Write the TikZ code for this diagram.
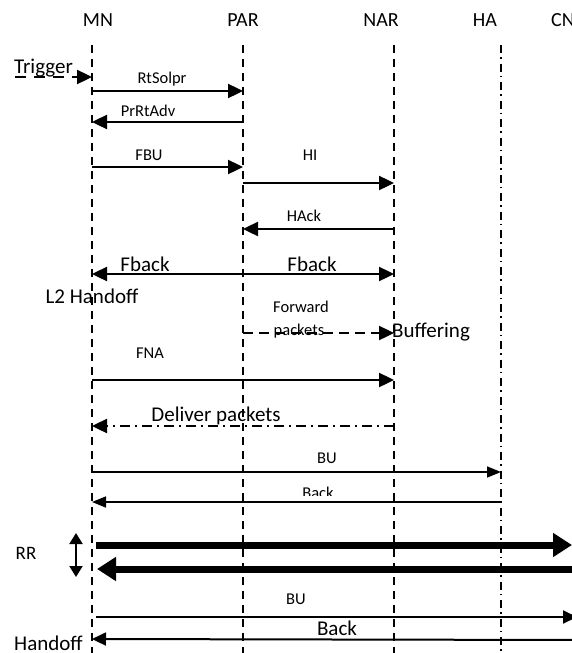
\documentclass[tikz,border=0pt]{standalone}
\usepackage{fontspec}
\setmainfont{Carlito}
\usetikzlibrary{arrows.meta}
\begin{document}
\begin{tikzpicture}[x=1pt,y=-1pt,
  life/.style={line width=1.3pt, dash pattern=on 8pt off 6pt},
  hlife/.style={line width=1.3pt, dash pattern=on 8pt off 4pt on 1.5pt off 5pt},
  msg/.style={line width=2.4pt, -{Triangle[length=15pt,width=14pt]}},
  dmsg/.style={line width=2.4pt, {Triangle[length=15pt,width=14pt]}-{Triangle[length=15pt,width=14pt]}},
  thinmsg/.style={line width=1.6pt, -{Triangle[length=14pt,width=11pt]}},
  fat/.style={line width=7pt, -{Triangle[length=19pt,width=23pt]}},
  hdr/.style={font=\fontsize{20}{22}\selectfont, inner sep=0pt, anchor=base},
  sm/.style={font=\fontsize{16.5}{19}\selectfont, inner sep=0pt},
  big/.style={font=\fontsize{21}{23}\selectfont, inner sep=0pt},
]
\useasboundingbox (0,0) rectangle (571,653);

% headers
\node[hdr] (MN) at (98,27) {MN};
\node[hdr] (PAR) at (243,27) {PAR};
\node[hdr] (NAR) at (381,27) {NAR};
\node[hdr] (HA) at (485,27) {HA};
\node[hdr, anchor=base west] (CN) at (551,27) {CN};

% lifelines
\coordinate (LMN) at (92,45);
\coordinate (LPAR) at (243,45);
\coordinate (LNAR) at (394,45);
\coordinate (LHA) at (501,45);
\coordinate (bot) at (0,653);
\draw[life] (LMN) -- (LMN |- bot);
\draw[life] (LPAR) -- (LPAR |- bot);
\draw[life] (LNAR) -- (LNAR |- bot);
\draw[hlife] (LHA) -- (LHA |- bot);

% Trigger
\node[big, anchor=base west] (trig) at (14,73.5) {Trigger};
\coordinate (trigS) at (15,77);
\draw[msg, dash pattern=on 11pt off 8pt] (trigS) -- (LMN |- trigS);

% RtSolpr
\coordinate (r1) at (0,91);
\draw[msg] (LMN |- r1) -- (LPAR |- r1);
\node[sm] (l1) at (162,79) {RtSolpr};

% PrRtAdv
\coordinate (r2) at (0,122);
\draw[msg] (LPAR |- r2) -- (LMN |- r2);
\node[sm] (l2) at (148,111) {PrRtAdv};

% FBU
\coordinate (r3) at (0,167);
\draw[msg] (LMN |- r3) -- (LPAR |- r3);
\node[sm] (l3) at (149,155) {FBU};

% HI
\coordinate (r4) at (0,183);
\draw[msg] (LPAR |- r4) -- (LNAR |- r4);
\node[sm] (l4) at (310,155) {HI};

% HAck
\coordinate (r5) at (0,229);
\draw[msg] (LNAR |- r5) -- (LPAR |- r5);
\node[sm] (l5) at (304,216) {HAck};

% Fback
\coordinate (r6) at (0,274);
\draw[dmsg] (LMN |- r6) -- (LNAR |- r6);
\node[big] (l6a) at (145,264) {Fback};
\node[big] (l6b) at (312,264) {Fback};

\node[big] (l2h) at (92,296) {L2 Handoff};

% Forward packets
\coordinate (r7) at (0,333);
\draw[msg, dash pattern=on 10pt off 6pt] (LPAR |- r7) -- (LNAR |- r7);
\node[sm] (l7a) at (301,307) {Forward};
\node[sm] (l7b) at (299,331) {packets};
\node[big, anchor=west] (buf) at (392,332) {Buffering};

% FNA
\coordinate (r8) at (0,380);
\draw[msg] (LMN |- r8) -- (LNAR |- r8);
\node[sm] (l8) at (150,353) {FNA};

% Deliver packets
\coordinate (r9) at (0,426);
\draw[msg, dash pattern=on 10pt off 5pt on 2pt off 5pt] (LNAR |- r9) -- (LMN |- r9);
\node[big] (l9) at (216,416) {Deliver packets};

% BU to HA
\coordinate (r10) at (0,472);
\draw[thinmsg] (LMN |- r10) -- (LHA |- r10);
\node[sm] (l10) at (327,458) {BU};

% Back from HA
\coordinate (r11) at (0,502);
\draw[thinmsg] (LHA |- r11) -- (LMN |- r11);
\begin{scope}
\clip (280,470) rectangle (360,495.5);
\node[sm] (l11) at (318,493) {Back};
\end{scope}

% RR
\node[font=\fontsize{19}{21}\selectfont, inner sep=0pt] (RR) at (26,553) {RR};
\coordinate (rrT) at (76,533);
\coordinate (rrB) at (76,577);
\draw[line width=2pt, {Triangle[length=11pt,width=13pt]}-{Triangle[length=11pt,width=13pt]}] (rrT) -- (rrB);
\coordinate (f1s) at (96,545);
\coordinate (f1e) at (572,545);
\draw[fat] (f1s) -- (f1e);
\coordinate (f2s) at (580,569);
\coordinate (f2e) at (97,569);
\draw[fat] (f2s) -- (f2e);

% BU to CN
\coordinate (b1s) at (96,617);
\coordinate (b1e) at (577,617);
\draw[line width=2pt, -{Triangle[length=14pt,width=13pt]}] (b1s) -- (b1e);
\node[sm] (l12) at (296,599) {BU};

% Back from CN
\coordinate (b2s) at (580,640);
\coordinate (b2e) at (92,639);
\draw[line width=2pt, -{Triangle[length=14pt,width=13pt]}] (b2s) -- (b2e);
\node[big] (l13) at (337,628) {Back};

\node[big, anchor=base west] (ho) at (14,650) {Handoff};
\end{tikzpicture}
\end{document}
